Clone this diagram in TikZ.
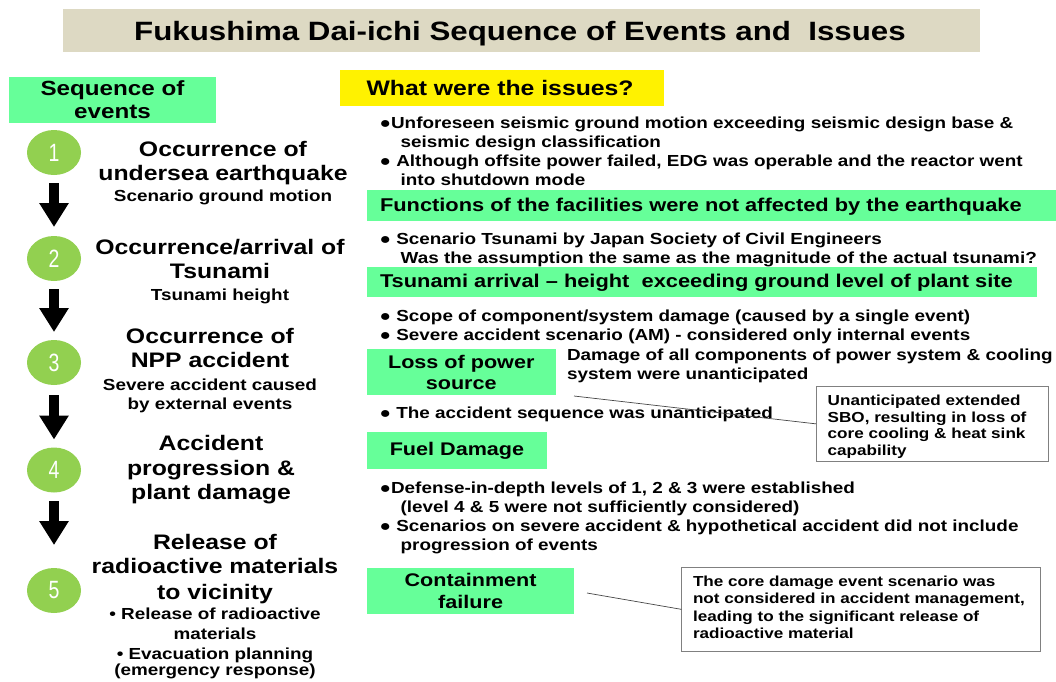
\documentclass[tikz,border=0pt]{standalone}
\usepackage{fontspec}
\setmainfont{Liberation Sans}[FakeStretch=1.18]
\newfontfamily\numfont{Liberation Sans}[FakeStretch=0.78]
\usetikzlibrary{arrows.meta,shapes.geometric}
\definecolor{titlebg}{RGB}{221,217,195}
\definecolor{panelgreen}{RGB}{102,255,153}
\definecolor{stepgreen}{RGB}{146,208,80}
\definecolor{notegray}{RGB}{128,128,128}
\definecolor{leadgray}{RGB}{70,70,70}
\begin{document}
\begin{tikzpicture}[x=1pt,y=-1pt,
  every node/.style={inner sep=0pt, outer sep=0pt},
  big/.style={anchor=base, font=\bfseries\fontsize{21}{24}\selectfont},
  sub/.style={anchor=base, font=\bfseries\fontsize{16}{18}\selectfont},
  % multi-line texts are placed by the baseline of their last line
  bul/.style={anchor=base west, align=left, font=\bfseries\fontsize{16}{18.9}\selectfont},
  bartext/.style={anchor=base west, font=\bfseries\fontsize{18.5}{22}\selectfont},
  panel/.style={fill=panelgreen, draw=none},
  gbox/.style={panel, align=center, font=\bfseries\fontsize{18.3}{21.5}\selectfont},
  notebox/.style={draw=notegray, line width=0.8pt, anchor=north west},
  notetext/.style={anchor=base west, align=left, font=\bfseries\fontsize{14.5}{16.5}\selectfont},
  stepnum/.style={ellipse, fill=stepgreen, minimum width=54pt, minimum height=45pt,
    text=white, font=\numfont\fontsize{25}{25}\selectfont},
  flow/.style={line width=10pt, -{Triangle[width=28pt,length=24pt]}},
  lead/.style={draw=leadgray, line width=0.7pt}
]
\useasboundingbox (0,0) rectangle (1056,681);
\fill[white] (0,0) rectangle (1056,681);

% title banner
\node[fill=titlebg, minimum width=917pt, minimum height=43pt] (banner) at (521.5,30.2) {};
\node[anchor=base, font=\bfseries\fontsize{26.5}{30}\selectfont] (title) at (520,40.7)
  {Fukushima Dai-ichi Sequence of Events and\ \ Issues};

% left column: sequence of events
\node[gbox, minimum width=207pt, minimum height=45.4pt, font=\bfseries\fontsize{20.5}{23}\selectfont]
  (seqhead) at (112.5,100) {Sequence of\\events};

\node[stepnum] (s1) at (54,152.5) {1};
\node[stepnum] (s2) at (54,258.5) {2};
\node[stepnum] (s3) at (54,362.5) {3};
\node[stepnum] (s4) at (54,470) {4};
\node[stepnum] (s5) at (54,590.5) {5};

\draw[flow, shorten <=8pt, shorten >=9pt] (s1) -- (s2);
\draw[flow, shorten <=8pt, shorten >=8pt] (s2) -- (s3);
\draw[flow, shorten <=10pt, shorten >=8pt] (s3) -- (s4);
\draw[flow, shorten <=8.5pt, shorten >=23pt] (s4) -- (s5);

\node[big] (e1a) at (223,156.7) {Occurrence of};
\node[big] (e1b) at (223,180.7) {undersea earthquake};
\node[sub] (e1c) at (223,201.7) {Scenario ground motion};

\node[big] (e2a) at (220,254.3) {Occurrence/arrival of};
\node[big] (e2b) at (220,278.7) {Tsunami};
\node[sub] (e2c) at (220,300) {Tsunami height};

\node[big] (e3a) at (210,343.3) {Occurrence of};
\node[big] (e3b) at (210,367.8) {NPP accident};
\node[sub] (e3c) at (210,390.7) {Severe accident caused};
\node[sub] (e3d) at (210,409.3) {by external events};

\node[big] (e4a) at (211,450) {Accident};
\node[big] (e4b) at (211,475) {progression \&};
\node[big] (e4c) at (211,499) {plant damage};

\node[big] (e5a) at (215,549.3) {Release of};
\node[big] (e5b) at (215,573.3) {radioactive materials};
\node[big] (e5c) at (215,599.3) {to vicinity};
\node[sub] (e5d) at (215,619.3) {• Release of radioactive};
\node[sub] (e5e) at (215,639.3) {materials};
\node[sub] (e5f) at (215,659) {• Evacuation planning};
\node[sub] (e5g) at (215,675.5) {(emergency response)};

% right column: issues
\node[fill=yellow, minimum width=324pt, minimum height=35.7pt, anchor=north west] (issues) at (340,70) {};
\node[anchor=base west, font=\bfseries\fontsize{21}{24}\selectfont] (issuestext) at (366.5,95)
  {What were the issues?};

\node[bul] (b1) at (379.7,185)
  {●Unforeseen seismic ground motion exceeding seismic design base \&\\
   \hspace*{21pt}seismic design classification\\
   ● Although offsite power failed, EDG was operable and the reactor went\\
   \hspace*{21pt}into shutdown mode};

\node[panel, minimum width=689pt, minimum height=30.7pt, anchor=north west] (bar1) at (367,190) {};
\node[bartext] (bar1text) at (380,211.7)
  {Functions of the facilities were not affected by the earthquake};

\node[bul] (b2) at (379.7,263.2)
  {● Scenario Tsunami by Japan Society of Civil Engineers\\
   \hspace*{21pt}Was the assumption the same as the magnitude of the actual tsunami?};

\node[panel, minimum width=670pt, minimum height=30pt, anchor=north west] (bar2) at (367,266.7) {};
\node[bartext] (bar2text) at (380,287.5)
  {Tsunami arrival -- height\ \ exceeding ground level of plant site};

\node[bul, font=\bfseries\fontsize{16}{18.3}\selectfont] (b3) at (379.7,340)
  {● Scope of component/system damage (caused by a single event)\\
   ● Severe accident scenario (AM) - considered only internal events};

\node[gbox, minimum width=188.5pt, minimum height=45.7pt] (loss) at (461.25,372.2) {Loss of power\\source};
\node[bul, font=\bfseries\fontsize{16}{19.3}\selectfont] (damage) at (567,379.3)
  {Damage of all components of power system \& cooling\\system were unanticipated};

\node[bul] (b4) at (379.7,418.3) {● The accident sequence was unanticipated};

\node[notebox, minimum width=232.7pt, minimum height=75.7pt] (sbo) at (816,386) {};
\node[notetext] (sbotext) at (827.7,455.2)
  {Unanticipated extended\\SBO, resulting in loss of\\core cooling \& heat sink\\capability};
\coordinate (lossend) at (574,396);
\draw[lead] (lossend) -- (sbo.west);

\node[gbox, minimum width=180pt, minimum height=37pt] (fuel) at (457,450.8) {Fuel Damage};

\node[bul] (b5) at (379.7,550)
  {●Defense-in-depth levels of 1, 2 \& 3 were established\\
   \hspace*{21pt}(level 4 \& 5 were not sufficiently considered)\\
   ● Scenarios on severe accident \& hypothetical accident did not include\\
   \hspace*{21pt}progression of events};

\node[gbox, minimum width=206.8pt, minimum height=46pt] (contain) at (470.6,590.7) {Containment\\failure};

\node[notebox, minimum width=358.5pt, minimum height=83.3pt] (cdm) at (681.5,567.7) {};
\node[notetext, font=\bfseries\fontsize{14.5}{17.2}\selectfont] (cdmtext) at (693,638.3)
  {The core damage event scenario was\\not considered in accident management,\\leading to the significant release of\\radioactive material};
\coordinate (containend) at (587,593);
\draw[lead] (containend) -- (cdm.west);
\end{tikzpicture}
\end{document}
